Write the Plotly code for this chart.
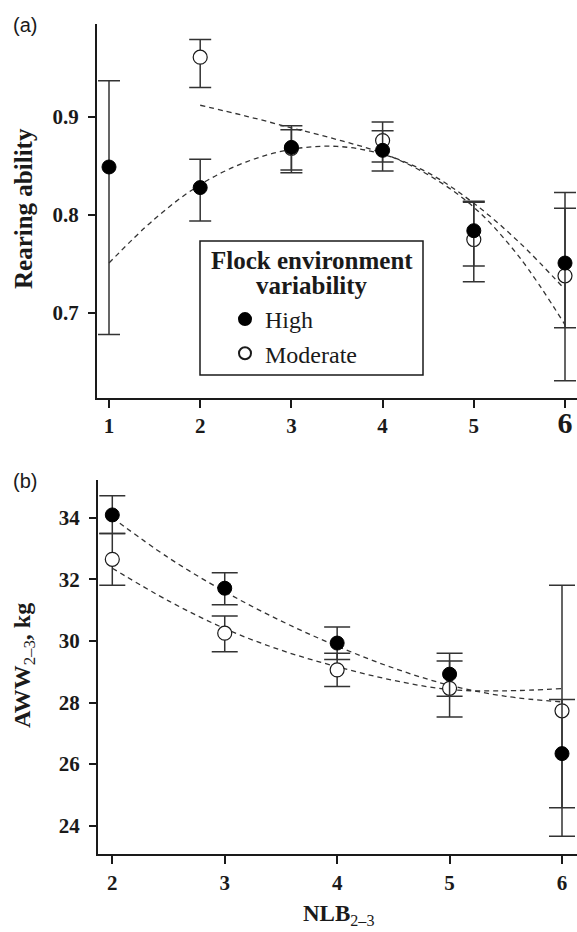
import plotly.graph_objects as go

# ---------------- Panel (a): Rearing ability ----------------
a_x_high = [1, 2, 3, 4, 5, 6]
a_high = [0.849, 0.828, 0.869, 0.866, 0.784, 0.751]
a_high_upper = [0.937, 0.857, 0.891, 0.886, 0.814, 0.823]
a_high_lower = [0.678, 0.794, 0.846, 0.845, 0.748, 0.685]

a_x_mod = [2, 3, 4, 5, 6]
a_mod = [0.961, 0.868, 0.876, 0.775, 0.738]
a_mod_upper = [0.979, 0.887, 0.895, 0.813, 0.807]
a_mod_lower = [0.930, 0.843, 0.854, 0.732, 0.631]

a_fit_x_high = [1, 1.5, 2, 2.5, 3, 3.5, 4, 4.5, 5, 5.5, 6]
a_fit_high = [0.751, 0.796, 0.831, 0.854, 0.867, 0.870, 0.862, 0.843, 0.812, 0.772, 0.724]
a_fit_x_mod = [2, 2.5, 3, 3.5, 4, 4.5, 5, 5.5, 6]
a_fit_mod = [0.912, 0.901, 0.889, 0.877, 0.863, 0.841, 0.808, 0.757, 0.688]

a_xticks = [1, 2, 3, 4, 5, 6]
a_xticktext = ["1", "2", "3", "4", "5", "<span style='font-size:30px'>6</span>"]
a_yticks = [0.7, 0.8, 0.9]
a_yticktext = ["0.7", "0.8", "0.9"]

# ---------------- Panel (b): AWW ----------------
b_x = [2, 3, 4, 5, 6]
b_high = [34.09, 31.71, 29.93, 28.92, 26.34]
b_high_upper = [34.71, 32.21, 30.45, 29.60, 28.10]
b_high_lower = [33.49, 31.17, 29.40, 28.20, 24.58]
b_mod = [32.65, 30.25, 29.06, 28.46, 27.73]
b_mod_upper = [33.49, 30.81, 29.60, 29.35, 31.81]
b_mod_lower = [31.81, 29.65, 28.52, 27.53, 23.66]

b_fit_x = [2, 2.5, 3, 3.5, 4, 4.5, 5, 5.5, 6]
b_fit_high = [34.0, 32.7, 31.6, 30.65, 29.83, 29.12, 28.56, 28.2, 28.02]
b_fit_mod = [32.36, 31.3, 30.4, 29.7, 29.16, 28.72, 28.42, 28.38, 28.45]

b_xticks = [2, 3, 4, 5, 6]
b_yticks = [24, 26, 28, 30, 32, 34]

legend_title_lines = ["Flock environment", "variability"]

W, H = 577, 932
SERIF = "Liberation Serif"
INK = "#1a1a1a"
BAR = "#333333"


def px_x(p):
    return p / W


def px_y(p):
    return 1 - p / H


def errs(vals, up, lo):
    plus = [u - v for u, v in zip(up, vals)]
    minus = [v - l for v, l in zip(vals, lo)]
    return plus, minus


fig = go.Figure()

line_style = dict(color="#333333", width=1.3, dash="5px,4px", shape="spline")

# fitted curves (a)
fig.add_trace(go.Scatter(x=a_fit_x_high, y=a_fit_high, mode="lines", line=line_style,
                         showlegend=False, xaxis="x", yaxis="y", hoverinfo="skip"))
fig.add_trace(go.Scatter(x=a_fit_x_mod, y=a_fit_mod, mode="lines", line=line_style,
                         showlegend=False, xaxis="x", yaxis="y", hoverinfo="skip"))
# fitted curves (b)
fig.add_trace(go.Scatter(x=b_fit_x, y=b_fit_high, mode="lines", line=line_style,
                         showlegend=False, xaxis="x2", yaxis="y2", hoverinfo="skip"))
fig.add_trace(go.Scatter(x=b_fit_x, y=b_fit_mod, mode="lines", line=line_style,
                         showlegend=False, xaxis="x2", yaxis="y2", hoverinfo="skip"))

open_marker = dict(size=14, color="white", line=dict(color=INK, width=1.2), symbol="circle")
filled_marker = dict(size=14, color="black", line=dict(color="black", width=1), symbol="circle")

# Moderate (a)
p, m = errs(a_mod, a_mod_upper, a_mod_lower)
fig.add_trace(go.Scatter(x=a_x_mod, y=a_mod, mode="markers", marker=open_marker,
                         error_y=dict(type="data", symmetric=False, array=p, arrayminus=m,
                                      color=BAR, thickness=1.5, width=11),
                         name="Moderate", legendgroup="mod", legendrank=2,
                         xaxis="x", yaxis="y"))
# High (a)
p, m = errs(a_high, a_high_upper, a_high_lower)
fig.add_trace(go.Scatter(x=a_x_high, y=a_high, mode="markers", marker=filled_marker,
                         error_y=dict(type="data", symmetric=False, array=p, arrayminus=m,
                                      color=BAR, thickness=1.5, width=11),
                         name="High", legendgroup="high", legendrank=1,
                         xaxis="x", yaxis="y"))
# Moderate (b)
p, m = errs(b_mod, b_mod_upper, b_mod_lower)
fig.add_trace(go.Scatter(x=b_x, y=b_mod, mode="markers", marker=open_marker,
                         error_y=dict(type="data", symmetric=False, array=p, arrayminus=m,
                                      color=BAR, thickness=1.5, width=13),
                         name="Moderate", legendgroup="mod", showlegend=False,
                         xaxis="x2", yaxis="y2"))
# High (b)
p, m = errs(b_high, b_high_upper, b_high_lower)
fig.add_trace(go.Scatter(x=b_x, y=b_high, mode="markers", marker=filled_marker,
                         error_y=dict(type="data", symmetric=False, array=p, arrayminus=m,
                                      color=BAR, thickness=1.5, width=13),
                         name="High", legendgroup="high", showlegend=False,
                         xaxis="x2", yaxis="y2"))

axis_common = dict(showline=True, linecolor=INK, linewidth=2, ticks="outside",
                   tickcolor=INK, tickwidth=2, showgrid=False, zeroline=False,
                   tickfont=dict(family=SERIF, size=21, color=INK, weight="bold"))

annotations = [
    dict(text="(a)", x=px_x(11), y=px_y(25), xref="paper", yref="paper",
         xanchor="left", yanchor="middle", showarrow=False,
         font=dict(family="Liberation Sans", size=20, color=INK)),
    dict(text="(b)", x=px_x(11), y=px_y(481), xref="paper", yref="paper",
         xanchor="left", yanchor="middle", showarrow=False,
         font=dict(family="Liberation Sans", size=20, color=INK)),
    dict(text="<b>Rearing ability</b>", x=px_x(23), y=px_y(209), xref="paper",
         yref="paper", xanchor="center", yanchor="middle", textangle=-90,
         showarrow=False, font=dict(family=SERIF, size=25, color=INK)),
    dict(text="<b>AWW</b><sub>2–3</sub><b>, kg</b>", x=px_x(24), y=px_y(666),
         xref="paper", yref="paper", xanchor="center", yanchor="middle",
         textangle=-90, showarrow=False, font=dict(family=SERIF, size=24, color=INK)),
    dict(text="<b>NLB</b><sub>2–3</sub>", x=px_x(338), y=px_y(915), xref="paper",
         yref="paper", xanchor="center", yanchor="middle", showarrow=False,
         font=dict(family=SERIF, size=23, color=INK)),
]
# legend title, two centred lines
for line_text, ypix in zip(legend_title_lines, [261, 285]):
    annotations.append(dict(text="<b>" + line_text + "</b>", x=px_x(311.5), y=px_y(ypix),
                            xref="paper", yref="paper", xanchor="center", yanchor="middle",
                            showarrow=False, font=dict(family=SERIF, size=25, color=INK)))

fig.update_layout(
    width=W, height=H,
    margin=dict(l=0, r=0, t=0, b=0),
    paper_bgcolor="white", plot_bgcolor="white",
    font=dict(family=SERIF, color=INK),
    xaxis=dict(domain=[px_x(97), 1], range=[0.8684, 6.1316], anchor="y",
               tickvals=a_xticks, ticktext=a_xticktext, ticklen=8,
               ticklabelstandoff=0, **axis_common),
    yaxis=dict(domain=[px_y(398), px_y(24)], range=[0.6133, 0.9949], anchor="x",
               tickvals=a_yticks, ticktext=a_yticktext, ticklen=7,
               ticklabelstandoff=5, **axis_common),
    xaxis2=dict(domain=[px_x(98), 1], range=[1.8728, 6.1334], anchor="y2",
                tickvals=b_xticks, ticklen=8, ticklabelstandoff=1, **axis_common),
    yaxis2=dict(domain=[px_y(854), px_y(480)], range=[23.081, 35.224], anchor="x2",
                tickvals=b_yticks, ticklen=7, ticklabelstandoff=5, **axis_common),
    showlegend=True,
    legend=dict(
        x=px_x(200), y=px_y(297), xanchor="left", yanchor="top",
        borderwidth=0, bgcolor="rgba(0,0,0,0)",
        font=dict(family=SERIF, size=24, color=INK),
        indentation=25, tracegroupgap=0, itemsizing="constant",
    ),
    shapes=[dict(type="rect", xref="paper", yref="paper",
                 x0=px_x(200), x1=px_x(423), y0=px_y(375), y1=px_y(241),
                 line=dict(color=INK, width=1.5), layer="above")],
    annotations=annotations,
)

fig.write_html("out.html")
